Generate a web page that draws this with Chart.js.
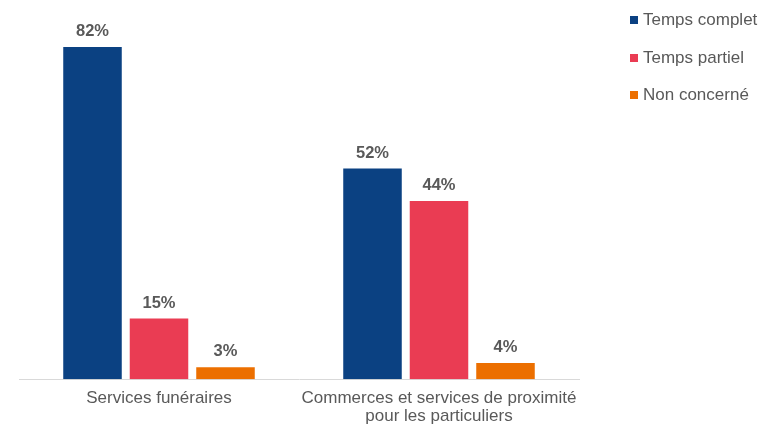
<!DOCTYPE html>
<html lang="fr">
<head>
<meta charset="utf-8">
<title>Temps de travail par secteur</title>
<script src="https://cdn.jsdelivr.net/npm/chart.js@4"></script>
<style>
  html, body { margin: 0; padding: 0; background: #ffffff; }
  #wrap { position: relative; width: 761px; height: 426px; }
  #chart { position: absolute; left: 0; top: 0; }
  #legend {
    position: absolute; left: 630px; top: 9px;
    font-family: "Liberation Sans", Arial, sans-serif; font-size: 17px; color: #595959;
  }
  .item { display: flex; align-items: center; height: 22px; margin-bottom: 15.5px; white-space: nowrap; }
  .swatch { width: 8px; height: 8px; margin-right: 5px; flex: none; }
</style>
</head>
<body>
<div id="wrap">
  <canvas id="chart" width="761" height="426"></canvas>
  <div id="legend"></div>
</div>
<script>
// Categories (x axis)
const categories = [
  "Services funéraires",
  ["Commerces et services de proximité", "pour les particuliers"]
];

// Series names, colours and values (in %)
const seriesNames = ["Temps complet", "Temps partiel", "Non concerné"];
const seriesColors = ["#0b4182", "#ea3c53", "#ec6f00"];
const tempsComplet = [82, 52];
const tempsPartiel = [15, 44];
const nonConcerne = [3, 4];

const seriesValues = [tempsComplet, tempsPartiel, nonConcerne];

const textColor = "#595959";
const fontFamily = "'Liberation Sans', Arial, sans-serif";

// Percentage labels above each bar
const valueLabels = {
  id: "valueLabels",
  afterDatasetsDraw(chart) {
    const ctx = chart.ctx;
    ctx.save();
    ctx.font = "bold 16.5px " + fontFamily;
    ctx.fillStyle = textColor;
    ctx.textAlign = "center";
    ctx.textBaseline = "middle";
    chart.data.datasets.forEach((ds, i) => {
      chart.getDatasetMeta(i).data.forEach((bar, j) => {
        ctx.fillText(ds.data[j] + "%", bar.x, bar.y - 15.5);
      });
    });
    ctx.restore();
  }
};

new Chart(document.getElementById("chart"), {
  type: "bar",
  data: {
    labels: categories,
    datasets: seriesNames.map((name, i) => ({
      label: name,
      data: seriesValues[i],
      backgroundColor: seriesColors[i],
      borderWidth: 0,
      categoryPercentage: 0.7125,
      barPercentage: 0.88
    }))
  },
  options: {
    responsive: false,
    animation: false,
    layout: { padding: { left: 19, right: 182, top: 14.5, bottom: -10 } },
    plugins: {
      legend: { display: false },
      tooltip: { enabled: false }
    },
    scales: {
      x: {
        grid: { display: false, drawTicks: false },
        border: { display: true, color: "#d9d9d9", width: 1 },
        ticks: {
          color: textColor,
          padding: 10.5,
          maxRotation: 0,
          autoSkip: false,
          font: { family: fontFamily, size: 17, lineHeight: 1.05 }
        }
      },
      y: {
        display: false,
        min: 0,
        max: 90
      }
    }
  },
  plugins: [valueLabels]
});

// Legend built from the same series arrays
const legend = document.getElementById("legend");
seriesNames.forEach((name, i) => {
  const item = document.createElement("div");
  item.className = "item";
  const sw = document.createElement("span");
  sw.className = "swatch";
  sw.style.background = seriesColors[i];
  const label = document.createElement("span");
  label.textContent = name;
  item.appendChild(sw);
  item.appendChild(label);
  legend.appendChild(item);
});
</script>
</body>
</html>
